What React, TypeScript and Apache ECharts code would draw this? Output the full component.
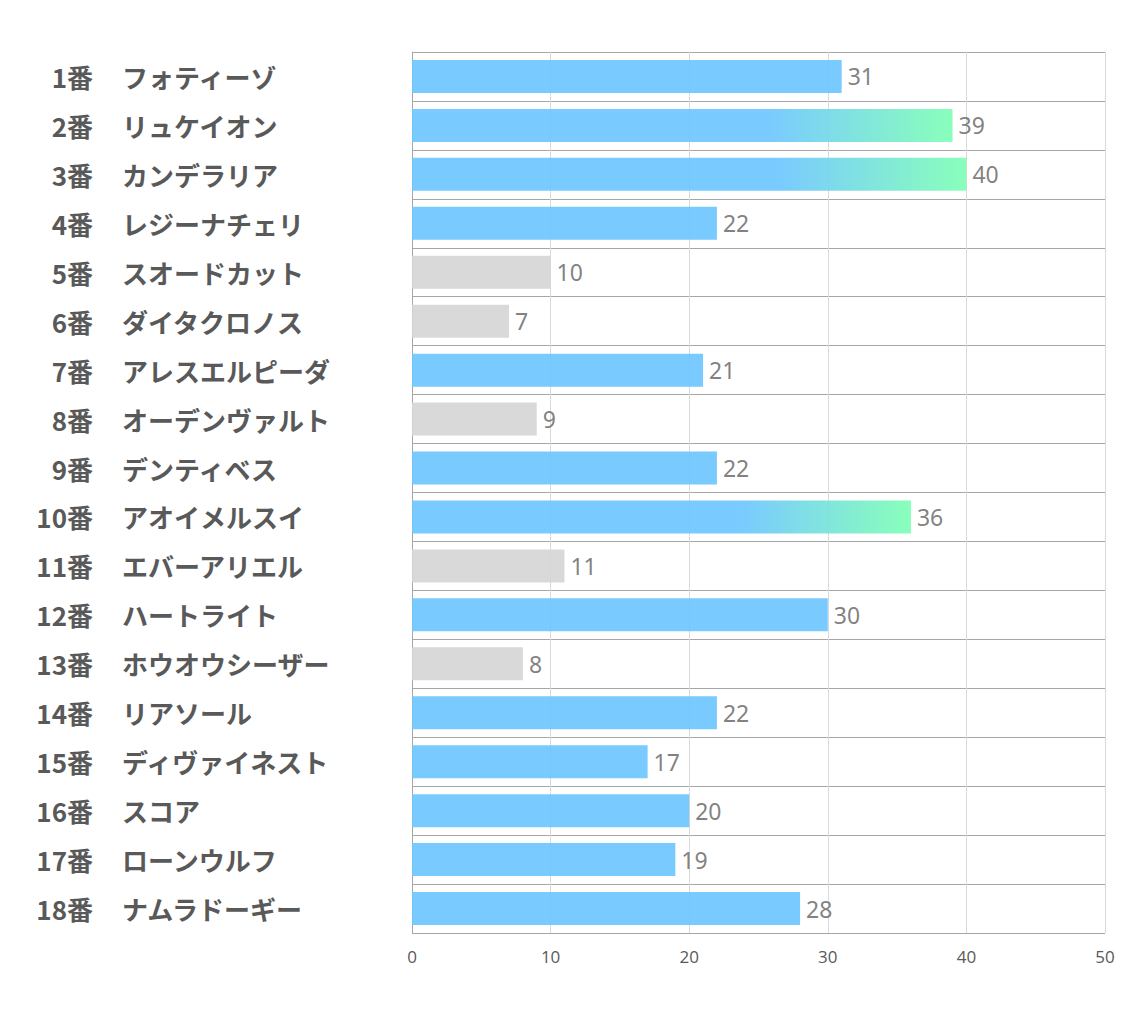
import React, { useEffect, useRef } from "react";
import * as echarts from "echarts";

const horseNumbers = [1, 2, 3, 4, 5, 6, 7, 8, 9, 10, 11, 12, 13, 14, 15, 16, 17, 18];
const horseNames = [
  "フォティーゾ", "リュケイオン", "カンデラリア", "レジーナチェリ", "スオードカット", "ダイタクロノス",
  "アレスエルピーダ", "オーデンヴァルト", "デンティベス", "アオイメルスイ", "エバーアリエル", "ハートライト",
  "ホウオウシーザー", "リアソール", "ディヴァイネスト", "スコア", "ローンウルフ", "ナムラドーギー",
];
const scores = [31, 39, 40, 22, 10, 7, 21, 9, 22, 36, 11, 30, 8, 22, 17, 20, 19, 28];
const xTicks = [0, 10, 20, 30, 40, 50];

const BLUE = "#6EC6FF";
const GRAY = "#D6D6D6";
const GREEN = "#7FFFB5";
const LABEL_FONT = {
  fontSize: 26,
  fontWeight: "bold",
  color: "#595959",
  fontFamily: "Noto Sans CJK JP",
};

export default function App() {
  const ref = useRef<HTMLDivElement>(null);
  useEffect(() => {
    if (!ref.current) return;
    const chart = echarts.init(ref.current, null, { renderer: "svg" });
    const sorted = [...scores].sort((a, b) => b - a);
    const top3 = sorted[2];
    const numLabels = horseNumbers.map((n) => `${n}番`);
    const data = scores.map((v) => {
      let color: any = BLUE;
      if (v >= top3) {
        color = new echarts.graphic.LinearGradient(0, 0, 1, 0, [
          { offset: 0, color: BLUE },
          { offset: 0.66, color: BLUE },
          { offset: 1, color: GREEN },
        ]);
      } else if (v <= 11) {
        color = GRAY;
      }
      return { value: v, itemStyle: { color } };
    });
    chart.setOption({
      animation: false,
      grid: { left: 404, right: 21, top: 44, bottom: 79 },
      xAxis: {
        type: "value",
        min: xTicks[0],
        max: xTicks[xTicks.length - 1],
        interval: 10,
        axisLine: { show: false },
        axisTick: { show: false },
        splitLine: { show: true, lineStyle: { color: "#D9D9D9", width: 1 } },
        axisLabel: {
          margin: 15,
          fontSize: 17,
          color: "#595959",
          fontFamily: "Open Sans",
        },
      },
      yAxis: [
        {
          type: "category",
          inverse: true,
          data: numLabels,
          axisLine: { show: true, lineStyle: { color: "#A6A6A6", width: 1 } },
          axisTick: { show: false },
          splitLine: { show: true, lineStyle: { color: "#A6A6A6", width: 1 } },
          axisLabel: { align: "right", margin: 319, ...LABEL_FONT },
        },
        {
          type: "category",
          position: "left",
          inverse: true,
          data: horseNames,
          axisLine: { show: false },
          axisTick: { show: false },
          splitLine: { show: false },
          axisLabel: { align: "left", margin: 290, ...LABEL_FONT },
        },
      ],
      series: [
        {
          type: "bar",
          yAxisIndex: 0,
          data,
          barWidth: 33,
          itemStyle: { opacity: 0.92 },
          label: {
            show: true,
            position: "right",
            distance: 6,
            fontSize: 23,
            color: "#767676",
            fontFamily: "Noto Sans",
          },
        },
      ],
    });
    return () => chart.dispose();
  }, []);
  return <div ref={ref} style={{ width: 1118, height: 1004 }} />;
}
